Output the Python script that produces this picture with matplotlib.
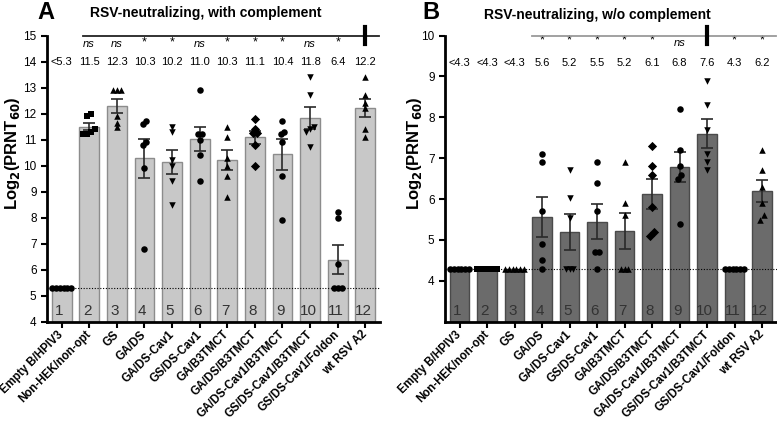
import numpy as np
import matplotlib.pyplot as plt

plt.rcParams['font.family'] = ['Liberation Sans', 'DejaVu Sans']

groups = ["Empty B/HPIV3", "Non-HEK/non-opt", "GS", "GA/DS", "GA/DS-Cav1",
          "GS/DS-Cav1", "GA/B3TMCT", "GA/DS/B3TMCT", "GA/DS-Cav1/B3TMCT",
          "GS/DS-Cav1/B3TMCT", "GS/DS-Cav1/Foldon", "wt RSV A2"]
markers = ['o', 's', '^', 'o', 'v', 'o', '^', 'D', 'o', 'v', 'o', '^']

# panel A: with complement
pts_a = [
    [5.3, 5.3, 5.3, 5.3, 5.3, 5.3],
    [12.0, 11.9, 11.3, 11.2, 11.2, 11.4],
    [12.9, 12.9, 12.9, 11.5, 11.9, 11.65],
    [11.7, 11.6, 10.8, 10.9, 9.9, 6.8],
    [11.5, 11.3, 10.2, 10.0, 9.4, 8.5],
    [12.9, 11.2, 11.2, 11.0, 10.4, 9.4],
    [11.5, 11.1, 10.3, 10.0, 9.6, 8.8],
    [11.8, 11.4, 11.25, 11.25, 10.8, 10.0],
    [11.7, 11.3, 11.2, 10.9, 9.6, 7.9],
    [13.4, 12.7, 11.5, 11.4, 11.3, 10.7],
    [8.0, 8.2, 6.2, 5.3, 5.3, 5.3],
    [13.4, 12.7, 12.4, 12.2, 11.1, 11.4],
]
means_a = ["<5.3", "11.5", "12.3", "10.3", "10.2", "11.0", "10.3", "11.1",
           "10.4", "11.8", "6.4", "12.2"]
sig_a = ["", "ns", "ns", "*", "*", "ns", "*", "*", "*", "ns", "*", ""]
lod_a = 5.3

# panel B: without complement
pts_b = [
    [4.3] * 6,
    [4.3] * 6,
    [4.3] * 6,
    [7.1, 6.9, 5.7, 4.9, 4.5, 4.3],
    [6.72, 6.02, 5.53, 4.3, 4.3, 4.3],
    [6.9, 6.4, 5.7, 4.7, 4.7, 4.3],
    [6.9, 5.9, 5.6, 4.3, 4.3, 4.3],
    [7.3, 6.8, 6.6, 5.8, 5.1, 5.2],
    [8.2, 7.2, 6.8, 6.6, 6.5, 5.4],
    [8.9, 8.3, 7.7, 7.1, 6.7, 6.9],
    [4.3] * 6,
    [7.2, 6.7, 6.3, 5.9, 5.5, 5.6],
]
means_b = ["<4.3", "<4.3", "<4.3", "5.6", "5.2", "5.5", "5.2", "6.1", "6.8",
           "7.6", "4.3", "6.2"]
sig_b = ["", "", "", "*", "*", "*", "*", "*", "ns", "", "*", "*"]
lod_b = 4.3


def swarm(vals, tol=0.12, step=0.14):
    vals = np.asarray(vals)
    order = np.argsort(vals)
    offs = np.zeros(len(vals))
    clusters = []
    for i in order:
        if clusters and vals[i] - vals[clusters[-1][-1]] < tol:
            clusters[-1].append(i)
        else:
            clusters.append([i])
    for c in clusters:
        n = len(c)
        for k, i in enumerate(c):
            offs[i] = (k - (n - 1) / 2) * step
    return offs


def panel(ax, pts, means, sig, lod, bar_color, edge_color, ylo, yhi, yticks,
          line_from, line_color, thick_at, mean_y, sig_y, num_y):
    x = np.arange(1, len(groups) + 1)
    m = np.array([np.mean(p) for p in pts])
    sem = np.array([np.std(p, ddof=1) / np.sqrt(len(p)) for p in pts])
    ax.bar(x, m - ylo, bottom=ylo, width=0.72, color=bar_color,
           edgecolor=edge_color, linewidth=1.0, zorder=2)
    for i in range(len(x)):
        if sem[i] > 0.01:
            ax.errorbar(x[i], m[i], yerr=sem[i], color='#2a2a2a', capsize=4.5,
                        elinewidth=1.2, capthick=1.2, zorder=4)
        offs = swarm(pts[i])
        ax.scatter(x[i] + offs, pts[i], marker=markers[i], s=22,
                   color='black', zorder=5, linewidths=0)
        ax.text(x[i] - 0.08, num_y, str(i + 1), ha='center', va='center',
                fontsize=11, color='#333333', zorder=6)
        ax.text(x[i], mean_y, means[i], ha='center', va='center', fontsize=8)
        if sig[i] == "ns":
            ax.text(x[i], sig_y - 0.08 * (yhi - ylo) / 11, "ns", ha='center',
                    va='center', fontsize=8, style='italic')
        elif sig[i]:
            ax.text(x[i], sig_y, "*", ha='center', va='center', fontsize=9)
    ax.axhline(lod, color='black', linestyle=(0, (1, 1.5)), linewidth=0.8,
               zorder=3)
    ax.plot([line_from, 12.5], [yhi, yhi], color=line_color, lw=1.3,
            clip_on=False, zorder=6)
    d = 0.03 * (yhi - ylo)
    ax.plot([thick_at, thick_at], [yhi - d, yhi + d], color='black', lw=3,
            clip_on=False, zorder=7)
    ax.set_ylim(ylo, yhi)
    ax.set_xlim(0.47, 12.53)
    ax.set_yticks(yticks)
    ax.tick_params(axis='y', labelsize=8.5, width=1.5, length=4)
    ax.set_xticks(x)
    ax.set_xticklabels(groups, rotation=45, ha='right', va='center',
                       rotation_mode='anchor', fontsize=8.3, fontweight='bold')
    ax.tick_params(axis='x', width=1.5, length=4, pad=4)
    for s in ['top', 'right']:
        ax.spines[s].set_visible(False)
    for s in ['left', 'bottom']:
        ax.spines[s].set_linewidth(2)
    ax.set_ylabel("Log$_\\mathbf{2}$(PRNT$_\\mathbf{60}$)", fontsize=12,
                  fontweight='bold')


fig = plt.figure(figsize=(7.77, 4.34), dpi=100)
ax_a = fig.add_axes([0.0605, 0.2588, 0.4285, 0.6592])
ax_b = fig.add_axes([0.5727, 0.2588, 0.4268, 0.6592])

panel(ax_a, pts_a, means_a, sig_a, lod_a, '#c8c8c8', '#8c8c8c', 4, 15,
      range(4, 16), 1.77, '#222222', 12, 14.0, 14.75, 4.4)
panel(ax_b, pts_b, means_b, sig_b, lod_b, '#6b6b6b', '#4a4a4a', 3, 10,
      range(4, 11), 3.62, '#9a9a9a', 10, 9.33, 9.88, 3.25)

ax_a.yaxis.set_label_coords(-0.075, 0.59)
ax_b.yaxis.set_label_coords(-0.063, 0.59)

fig.text(0.048, 0.972, "A", fontsize=17, fontweight='bold', va='center')
fig.text(0.265, 0.97, "RSV-neutralizing, with complement", fontsize=10,
         fontweight='bold', ha='center', va='center')
fig.text(0.544, 0.972, "B", fontsize=17, fontweight='bold', va='center')
fig.text(0.769, 0.965, "RSV-neutralizing, w/o complement", fontsize=10,
         fontweight='bold', ha='center', va='center')

fig.savefig("out.png", dpi=100)
